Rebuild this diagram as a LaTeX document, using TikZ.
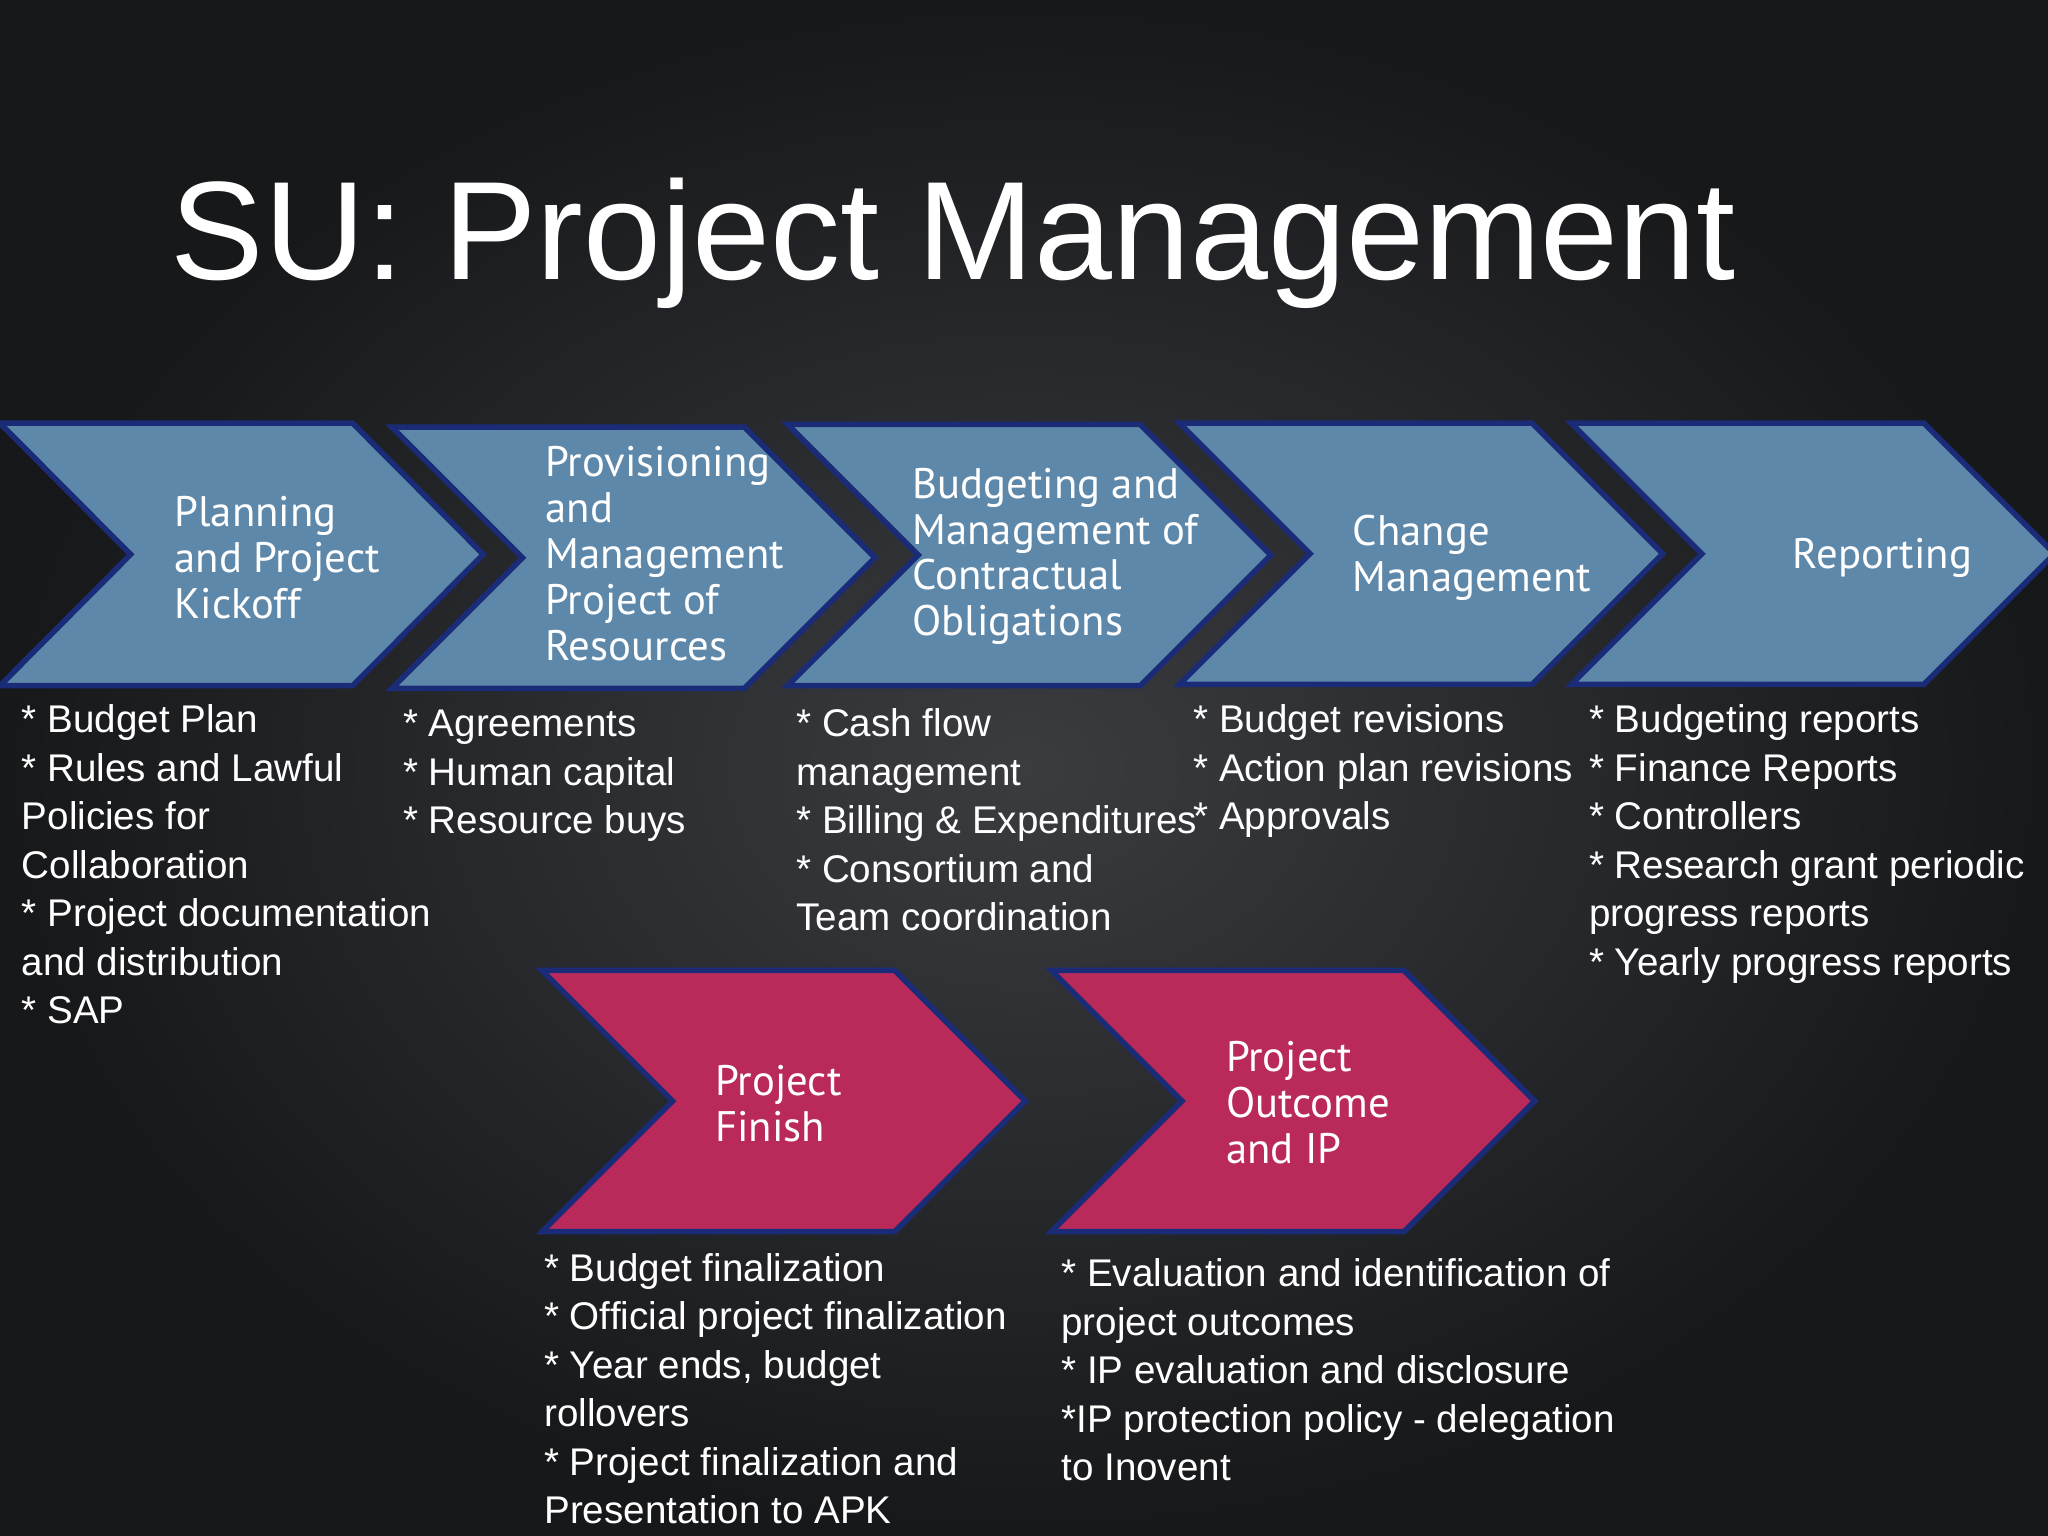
\documentclass[tikz,border=0pt]{standalone}
\usepackage{fontspec}
\setmainfont{Liberation Sans}
\newfontfamily\chevfont{PT Sans}
\begin{document}
\begin{tikzpicture}[x=0.01cm,y=-0.01cm,
  chev/.style={draw=chevedge,line width=1.2pt,line join=miter},
  chevtxt/.style={text=white,font=\chevfont\fontsize{9.3pt}{10pt}\selectfont,align=left,anchor=west,inner sep=0},
  body/.style={text=white,font=\fontsize{8.4pt}{10.55pt}\selectfont,align=left,anchor=north west,inner sep=0}]
\definecolor{chevedge}{HTML}{1A2C78}
\definecolor{chevblue}{HTML}{5E88AA}
\definecolor{chevpink}{HTML}{B92A5A}
\definecolor{bgdark}{HTML}{17181A}
\definecolor{bglight}{HTML}{3A3C40}
\useasboundingbox (0,0) rectangle (1568,1176);
\shade[inner color=bglight,outer color=bgdark] (0,0) rectangle (1568,1176);
\node[text=white,font=\fontsize{30.5pt}{32pt}\selectfont,anchor=west,inner sep=0] (title) at (130,186) {SU: Project Management};
\newcommand\mychev[5]{% x0, top, bottom, color, name
  \fill[#4,chev] (#1,#2) -- ++(270,0) -- (#1+370,{(#2+#3)/2}) -- (#1+270,#3) -- (#1,#3) -- (#1+100,{(#2+#3)/2}) -- cycle;
  \coordinate (#5) at (#1,{(#2+#3)/2});}
\mychev{0}{324}{525}{chevblue}{c1}
\mychev{300}{327}{527}{chevblue}{c2}
\mychev{603}{325}{525}{chevblue}{c3}
\mychev{903}{324}{524}{chevblue}{c4}
\mychev{1203}{324}{524}{chevblue}{c5}
\mychev{415}{743}{943}{chevpink}{p1}
\mychev{805}{743}{943}{chevpink}{p2}
\node[chevtxt] (t1) at (133,427) {Planning\\and Project\\Kickoff};
\node[chevtxt] (t2) at (417,424) {Provisioning\\and\\Management\\Project of\\Resources};
\node[chevtxt] (t3) at (698,426) {Budgeting and\\Management of\\Contractual\\Obligations};
\node[chevtxt] (t4) at (1035,427) {Change\\Management};
\node[chevtxt] (t5) at (1372,427) {Reporting};
\node[chevtxt] (t6) at (547,845) {Project\\Finish};
\node[chevtxt] (t7) at (938,844) {Project\\Outcome\\and IP};
\node[body] (b1) at (16,539) {* Budget Plan\\* Rules and Lawful\\Policies for\\Collaboration\\* Project documentation\\and distribution\\* SAP};
\node[body] (b2) at (308,543) {* Agreements\\* Human capital\\* Resource buys};
\node[body] (b3) at (609,542) {* Cash flow\\management\\* Billing \& Expenditures\\* Consortium and\\Team coordination};
\node[body] (b4) at (913,539) {* Budget revisions\\* Action plan revisions\\* Approvals};
\node[body] (b5) at (1216,539) {* Budgeting reports\\* Finance Reports\\* Controllers\\* Research grant periodic\\progress reports\\* Yearly progress reports};
\node[body] (b6) at (416,959) {* Budget finalization\\* Official project finalization\\* Year ends, budget\\rollovers\\* Project finalization and\\Presentation to APK};
\node[body] (b7) at (812,963) {* Evaluation and identification of\\project outcomes\\* IP evaluation and disclosure\\*IP protection policy - delegation\\to Inovent};
\end{tikzpicture}
\end{document}
